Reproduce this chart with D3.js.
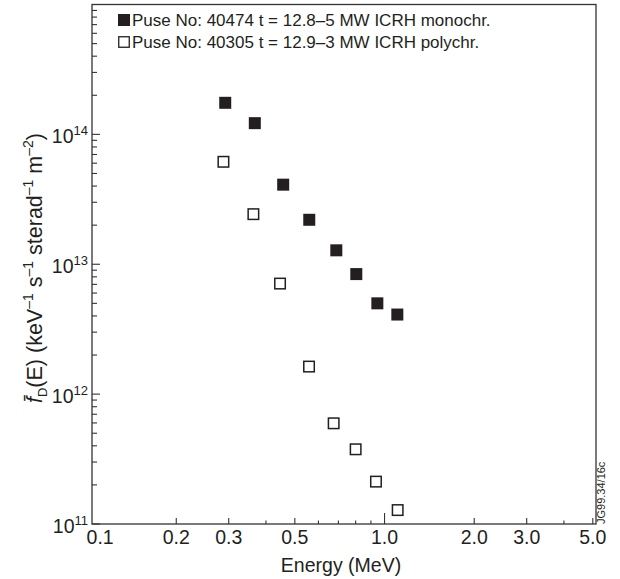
<!DOCTYPE html>
<html>
  <head>
    <meta charset="utf-8">
    <title></title>
    <style>
      body { margin:0; background:#fff; }
      svg { display:block; }
      text { font-family:"Liberation Sans", Arial, sans-serif; fill:#231f20; }
      .frame { fill:none; stroke:#333; stroke-width:1.3; }
      .tick { stroke:#333; stroke-width:1.1; }
    </style>
  </head>
  <body>
  <svg id="chart" width="620" height="579"></svg>
  <script src="https://d3js.org/d3.v7.min.js"></script>
  <script>
    // pulse 40474, 5 MW ICRH monochromatic
    var energyMono = [0.292, 0.367, 0.457, 0.559, 0.689, 0.804, 0.946, 1.104];
    var fluxMono   = [1.75e14, 1.22e14, 4.1e13, 2.2e13, 1.28e13, 8.4e12, 5.0e12, 4.1e12];
    // pulse 40305, 3 MW ICRH polychromatic
    var energyPoly = [0.288, 0.363, 0.446, 0.558, 0.675, 0.800, 0.936, 1.107];
    var fluxPoly   = [6.15e13, 2.43e13, 7.1e12, 1.63e12, 5.96e11, 3.76e11, 2.12e11, 1.28e11];

    var xTicks = [0.2, 0.3, 0.5, 1, 2, 3, 5];
    var xTickLabels = ['0.2', '0.3', '0.5', '1.0', '2.0', '3.0', '5.0'];
    var xMinor = [0.4, 0.6, 0.7, 0.8, 0.9, 4];
    var yDecades = [11, 12, 13, 14];

    var legendLabels = [
      'Puse No: 40474 t = 12.8\u20135 MW ICRH monochr.',
      'Puse No: 40305 t = 12.9\u20133 MW ICRH polychr.'
    ];

    var L = 92, R = 596, T = 4.5, B = 524;
    var svg = d3.select('#chart');

    var x = d3.scaleLog().domain([0.1043, 5.125]).range([L, R]);
    var y = d3.scaleLog().domain([1e11, 1e15]).range([B, T]);

    svg.append('rect').attr('class', 'frame')
      .attr('x', L).attr('y', T).attr('width', R - L).attr('height', B - T);

    // x ticks (inward)
    svg.selectAll('.xmaj').data(xTicks).enter().append('line')
      .attr('class', 'tick')
      .attr('x1', d => x(d)).attr('x2', d => x(d))
      .attr('y1', B).attr('y2', d => d === 1 ? B - 11 : B - 6);
    svg.selectAll('.xmin').data(xMinor).enter().append('line')
      .attr('class', 'tick')
      .attr('x1', d => x(d)).attr('x2', d => x(d))
      .attr('y1', B).attr('y2', B - 3.5);

    svg.selectAll('.xlab').data(xTicks).enter().append('text')
      .attr('x', d => x(d)).attr('y', 544)
      .attr('text-anchor', 'middle').attr('font-size', 19.5)
      .text((d, i) => xTickLabels[i]);
    svg.append('text').attr('x', x(0.1)).attr('y', 544)
      .attr('font-size', 19.5).text('0.1');

    svg.append('text').attr('x', 341).attr('y', 572)
      .attr('text-anchor', 'middle').attr('font-size', 19.5)
      .text('Energy (MeV)');

    // y ticks
    var yMinor = [];
    yDecades.forEach(function(e){
      for (var k = 2; k <= 9; k++) yMinor.push(k * Math.pow(10, e));
    });
    svg.selectAll('.ymin').data(yMinor).enter().append('line')
      .attr('class', 'tick')
      .attr('x1', L).attr('x2', L + 5)
      .attr('y1', d => y(d)).attr('y2', d => y(d));
    svg.selectAll('.ymaj').data(yDecades).enter().append('line')
      .attr('class', 'tick')
      .attr('x1', L).attr('x2', L + 8)
      .attr('y1', d => y(Math.pow(10, d))).attr('y2', d => y(Math.pow(10, d)));

    var ylab = svg.selectAll('.ylab').data(yDecades).enter().append('text')
      .attr('x', 88).attr('y', d => y(Math.pow(10, d)) + 9)
      .attr('text-anchor', 'end')
      .attr('font-size', 19.5);
    ylab.append('tspan').text('10');
    ylab.append('tspan').attr('dy', -8).attr('font-size', 13).text(d => d);

    // y axis title
    var yt = svg.append('text')
      .attr('transform', 'translate(42,268) rotate(-90)')
      .attr('text-anchor', 'middle').attr('font-size', 21.5);
    yt.append('tspan').attr('font-style', 'italic').text('f\u0304');
    yt.append('tspan').attr('dy', 5).attr('font-size', 13).text('D');
    yt.append('tspan').attr('dy', -5).text('(E) (keV');
    yt.append('tspan').attr('dy', -9).attr('font-size', 14).text('\u20131');
    yt.append('tspan').attr('dy', 9).text(' s');
    yt.append('tspan').attr('dy', -9).attr('font-size', 14).text('\u20131');
    yt.append('tspan').attr('dy', 9).text(' sterad');
    yt.append('tspan').attr('dy', -9).attr('font-size', 14).text('\u20131');
    yt.append('tspan').attr('dy', 9).text(' m');
    yt.append('tspan').attr('dy', -9).attr('font-size', 14).text('\u20132');
    yt.append('tspan').attr('dy', 9).text(')');

    // data
    var s = 12;
    svg.selectAll('.mono').data(energyMono).enter().append('rect')
      .attr('x', d => x(d) - s / 2)
      .attr('y', (d, i) => y(fluxMono[i]) - s / 2)
      .attr('width', s).attr('height', s)
      .attr('fill', '#231f20');
    svg.selectAll('.poly').data(energyPoly).enter().append('rect')
      .attr('x', d => x(d) - (s - 1.5) / 2)
      .attr('y', (d, i) => y(fluxPoly[i]) - (s - 1.5) / 2)
      .attr('width', s - 1.5).attr('height', s - 1.5)
      .attr('fill', '#fff').attr('stroke', '#231f20').attr('stroke-width', 1.5);

    // legend
    var lg = svg.selectAll('.leg').data(legendLabels).enter().append('g')
      .attr('transform', (d, i) => 'translate(118,' + (14 + i * 22) + ')');
    lg.append('rect')
      .attr('x', (d, i) => i ? 0.75 : 0).attr('y', (d, i) => i ? 0.75 : 0)
      .attr('width', (d, i) => i ? 10.5 : 12).attr('height', (d, i) => i ? 10.5 : 12)
      .attr('fill', (d, i) => i ? '#fff' : '#231f20')
      .attr('stroke', (d, i) => i ? '#231f20' : 'none').attr('stroke-width', 1.3);
    lg.append('text').attr('x', 14).attr('y', 12).attr('font-size', 17).text(d => d);

    svg.append('text')
      .attr('transform', 'translate(605,524) rotate(-90)')
      .attr('font-size', 11).text('JG99.34/16c');
  </script>
  </body>
</html>
